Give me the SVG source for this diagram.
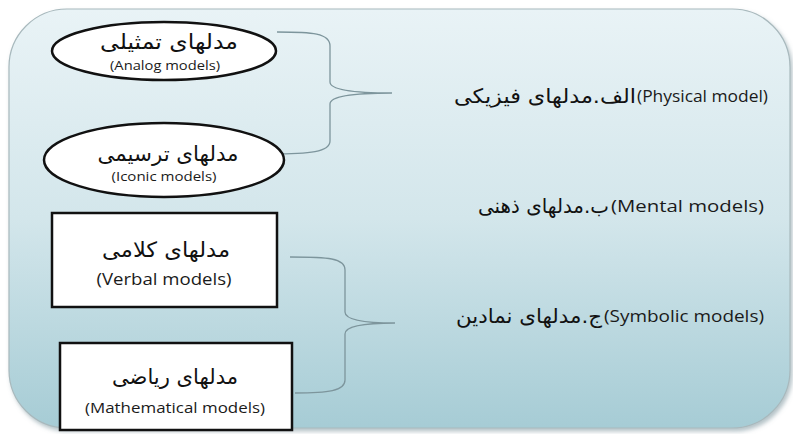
<svg xmlns="http://www.w3.org/2000/svg" width="793" height="434" viewBox="0 0 793 434">
<defs>
<linearGradient id="bg" x1="0" y1="0" x2="0" y2="1">
<stop offset="0" stop-color="#e9f3f6"/>
<stop offset="0.5" stop-color="#d3e6eb"/>
<stop offset="1" stop-color="#a6ccd5"/>
</linearGradient>
<filter id="sh" x="-5%" y="-5%" width="110%" height="115%">
<feDropShadow dx="2" dy="3" stdDeviation="2" flood-color="#6a8790" flood-opacity="0.5"/>
</filter>
</defs>
<style>
.node{fill:#ffffff;stroke:#111111;stroke-width:2.5}
.fa{font-family:"DejaVu Sans",sans-serif;fill:#111111}
.en{font-family:"Open Sans","Liberation Sans",sans-serif;fill:#1a1a1a}
.brace{fill:none;stroke:#7d959c;stroke-width:1.3}
</style>
<rect x="9" y="9" width="781" height="419" rx="58" ry="58" fill="url(#bg)" stroke="#a8b9bd" stroke-width="1.2" filter="url(#sh)"/>

<g id="connectors">
<path class="brace" d="M277,32 C312,32 330,33 330,46 L330,82 C330,90 355,93 392,93 C355,93 330,96 330,104 L330,141 C330,152 310,154 270,154"/>
<path class="brace" d="M290,257 C328,257 345,258 345,270 L345,312 C345,320 365,323 395,323 C365,323 345,326 345,334 L345,380 C345,391 328,393 295,393"/>
</g>

<g id="analog">
<ellipse class="node" cx="164" cy="51" rx="112" ry="29"/>
<text class="fa" x="169" y="49" font-size="21" text-anchor="middle" textLength="138" lengthAdjust="spacingAndGlyphs">مدلهای تمثیلی</text>
<text class="en" x="165" y="70" font-size="12" text-anchor="middle" textLength="110" lengthAdjust="spacingAndGlyphs">(Analog models)</text>
</g>

<g id="iconic">
<ellipse class="node" cx="164" cy="160" rx="120" ry="37"/>
<text class="fa" x="168" y="161" font-size="21" text-anchor="middle" textLength="141" lengthAdjust="spacingAndGlyphs">مدلهای ترسیمی</text>
<text class="en" x="164" y="181" font-size="12" text-anchor="middle" textLength="105" lengthAdjust="spacingAndGlyphs">(Iconic models)</text>
</g>

<g id="verbal">
<rect class="node" x="52" y="213" width="225" height="94"/>
<text class="fa" x="166" y="257" font-size="21" text-anchor="middle" textLength="128" lengthAdjust="spacingAndGlyphs">مدلهای کلامی</text>
<text class="en" x="164" y="285" font-size="16" text-anchor="middle" textLength="135" lengthAdjust="spacingAndGlyphs">(Verbal models)</text>
</g>

<g id="math">
<rect class="node" x="60" y="343" width="232" height="87"/>
<text class="fa" x="175" y="384" font-size="21" text-anchor="middle" textLength="126" lengthAdjust="spacingAndGlyphs">مدلهای ریاضی</text>
<text class="en" x="175" y="413" font-size="15" text-anchor="middle" textLength="180" lengthAdjust="spacingAndGlyphs">(Mathematical models)</text>
</g>

<g id="physical">
<text class="en" x="768" y="102" font-size="16" text-anchor="end" textLength="131" lengthAdjust="spacingAndGlyphs">(Physical model)</text>
<text class="fa" x="636" y="103" font-size="20" text-anchor="end" textLength="182" lengthAdjust="spacingAndGlyphs">الف.مدلهای فیزیکی</text>
</g>

<g id="mental">
<text class="en" x="764" y="212" font-size="16" text-anchor="end" textLength="153" lengthAdjust="spacingAndGlyphs">(Mental models)</text>
<text class="fa" x="609" y="213" font-size="20" text-anchor="end" textLength="131" lengthAdjust="spacingAndGlyphs">ب.مدلهای ذهنی</text>
</g>

<g id="symbolic">
<text class="en" x="764" y="322" font-size="16" text-anchor="end" textLength="160" lengthAdjust="spacingAndGlyphs">(Symbolic models)</text>
<text class="fa" x="602" y="323" font-size="20" text-anchor="end" textLength="146" lengthAdjust="spacingAndGlyphs">ج.مدلهای نمادین</text>
</g>
</svg>
